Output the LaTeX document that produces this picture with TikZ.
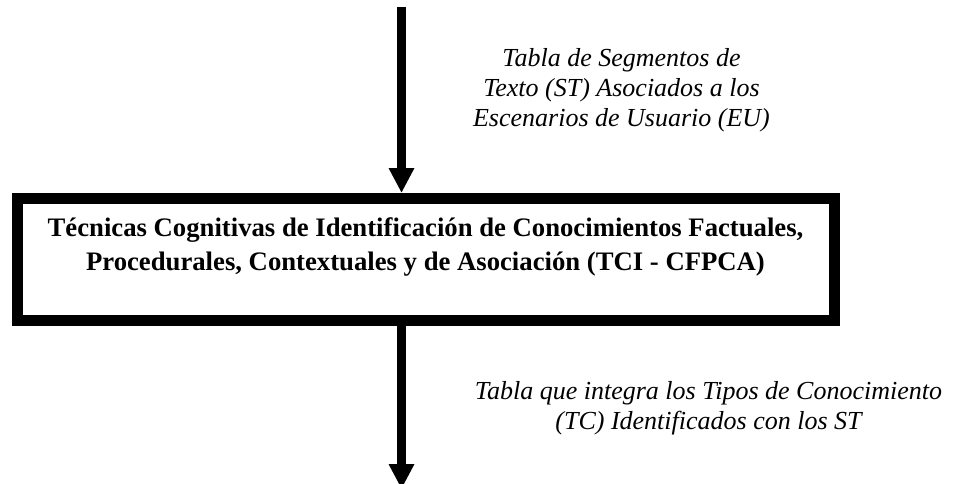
\documentclass[tikz,border=0pt]{standalone}
\usepackage{fontspec}
\setmainfont{Liberation Serif}
\usetikzlibrary{arrows.meta}
\tikzset{
  procbox/.style={draw=black, line width=11pt, fill=white, minimum width=817pt, minimum height=122pt, inner sep=0pt},
  boxtext/.style={align=center, inner sep=0pt, font=\bfseries\fontsize{26.7}{33.4}\selectfont},
  flowarrow/.style={line width=8.5pt, -{Triangle[width=24pt,length=25pt]}},
  flowlabel/.style={align=center, inner sep=0pt, font=\itshape\fontsize{26}{30}\selectfont}
}
\begin{document}
\begin{tikzpicture}[x=1pt,y=-1pt]
\useasboundingbox (0,0) rectangle (958,484);
\node[procbox] (box) at (425.5,259.5) {};
\node[boxtext] (title) at (425.5,247) {Técnicas Cognitivas de Identificación de Conocimientos Factuales,\\Procedurales, Contextuales y de Asociación (TCI - CFPCA)};
\coordinate (top) at (401.5,7);
\coordinate (bot) at (401.5,489);
\draw[flowarrow] (top) -- (top |- box.north);
\draw[flowarrow] (box.south -| bot) -- (bot);
\node[flowlabel] (lab1) at (621.5,90) {Tabla de Segmentos de\\Texto (ST) Asociados a los\\Escenarios de Usuario (EU)};
\node[flowlabel] (lab2) at (708.5,408) {Tabla que integra los Tipos de Conocimiento\\(TC) Identificados con los ST};
\end{tikzpicture}
\end{document}
